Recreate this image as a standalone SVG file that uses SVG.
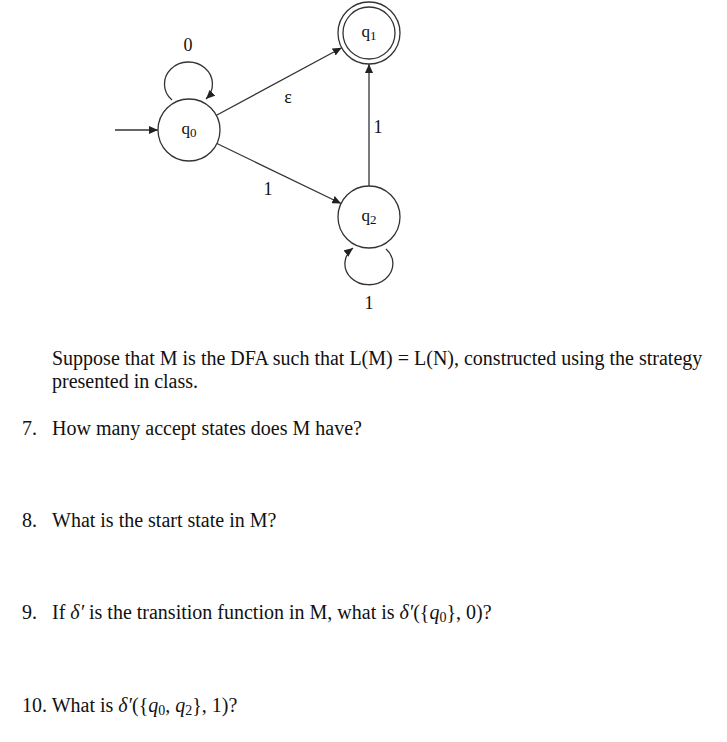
<svg xmlns="http://www.w3.org/2000/svg" width="727" height="742" viewBox="0 0 727 742">
<style>
.st{fill:#fff;stroke:#333;stroke-width:1.3}
.ed{fill:none;stroke:#333;stroke-width:1.3;marker-end:url(#ah)}
.lb{font-family:"Liberation Serif","Times New Roman",serif;font-size:17px;fill:#111;text-anchor:middle}
.el{font-family:"Liberation Serif","Times New Roman",serif;font-size:18px;fill:#111;text-anchor:middle}
.tx{font-family:"Liberation Serif","Times New Roman",serif;font-size:20px;fill:#111}
.m{font-style:italic}
</style>
<defs>
<marker id="ah" markerUnits="userSpaceOnUse" markerWidth="9" markerHeight="8" refX="9" refY="4" orient="auto">
<path d="M0,0 L9,4 L0,8 z" fill="#222"/>
</marker>
</defs>
<rect width="727" height="742" fill="#fff"/>
<g id="connectors">
<line class="ed" x1="115" y1="130" x2="158" y2="130"/>
<path class="ed" d="M172,100 A24 22 0 1 1 206,99"/>
<line class="ed" x1="216.5" y1="115.3" x2="341.7" y2="47.7"/>
<line class="ed" x1="216.9" y1="143.5" x2="341.1" y2="203.5"/>
<line class="ed" x1="369" y1="186" x2="369" y2="64"/>
<path class="ed" d="M386,249 A24 21 0 1 1 353,248"/>
<text class="el" x="188" y="51">0</text>
<text class="el" x="288" y="103">ε</text>
<text class="el" x="268" y="195">1</text>
<text class="el" x="378" y="133">1</text>
<text class="el" x="369" y="309">1</text>
</g>
<g id="q0">
<circle class="st" cx="189" cy="130" r="31"/>
<text class="lb" x="189" y="133.5">q<tspan font-size="13" dy="3">0</tspan></text>
</g>
<g id="q1">
<circle class="st" cx="369" cy="33" r="31"/>
<circle class="st" cx="369" cy="33" r="26"/>
<text class="lb" x="369" y="37">q<tspan font-size="13" dy="3">1</tspan></text>
</g>
<g id="q2">
<circle class="st" cx="369" cy="217" r="31"/>
<text class="lb" x="369" y="221">q<tspan font-size="13" dy="3">2</tspan></text>
</g>
<g id="questions">
<text class="tx" x="52" y="365">Suppose that M is the DFA such that L(M) = L(N), constructed using the strategy</text>
<text class="tx" x="52" y="388">presented in class.</text>
<text class="tx" x="22" y="435">7.</text>
<text class="tx" x="52" y="435">How many accept states does M have?</text>
<text class="tx" x="22" y="527">8.</text>
<text class="tx" x="52" y="527">What is the start state in M?</text>
<text class="tx" x="22" y="619">9.</text>
<text class="tx" x="52" y="619">If <tspan class="m">δ′</tspan> is the transition function in M, what is <tspan class="m">δ′</tspan>({<tspan class="m">q</tspan><tspan font-size="14" dy="3">0</tspan><tspan dy="-3">}, 0)?</tspan></text>
<text class="tx" x="22" y="712">10. What is <tspan class="m">δ′</tspan>({<tspan class="m">q</tspan><tspan font-size="14" dy="3">0</tspan><tspan dy="-3">, </tspan><tspan class="m">q</tspan><tspan font-size="14" dy="3">2</tspan><tspan dy="-3">}, 1)?</tspan></text>
</g>
</svg>
